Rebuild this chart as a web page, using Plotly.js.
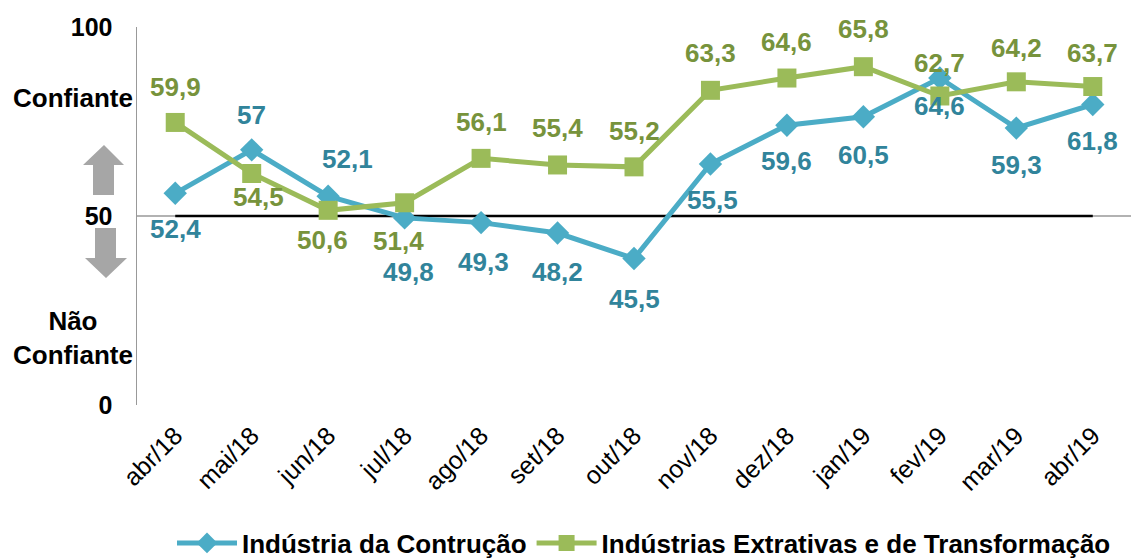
<!DOCTYPE html>
<html>
<head>
<meta charset="utf-8">
<script src="https://cdn.plot.ly/plotly-3.0.1.min.js"></script>
<style>html,body{margin:0;padding:0;background:#fff;}#chart{width:1137px;height:558px;}</style>
</head>
<body>
<div id="chart"></div>
<script>
const months = ['abr/18','mai/18','jun/18','jul/18','ago/18','set/18','out/18','nov/18','dez/18','jan/19','fev/19','mar/19','abr/19'];
const construcao = [52.4, 57.0, 52.1, 49.8, 49.3, 48.2, 45.5, 55.5, 59.6, 60.5, 64.6, 59.3, 61.8];
const extrativas = [59.9, 54.5, 50.6, 51.4, 56.1, 55.4, 55.2, 63.3, 64.6, 65.8, 62.7, 64.2, 63.7];
const seriesNames = ['Indústria da Contrução', 'Indústrias Extrativas e de Transformação'];
const yTickVals = [30, 50, 70];
const yTickText = ['0', '50', '100'];
const neutralLevel = 50;

// label offsets (pixels) as placed in the original: [xshift, yshift]
const construcaoLabelOffset = [[0,-36],[0,35],[19,37],[4,-54],[2,-39],[0,-39],[0,-40],[2,-36],[0,-36],[0,-38],[0,-28],[0,-37],[0,-37]];
const extrativasLabelOffset = [[0,35],[7,-24],[-6,-30],[-6,-38],[0,36],[0,37],[0,36],[0,37],[0,36],[0,38],[0,33],[0,34],[0,34]];

const blue = '#4BACC6', blueText = '#31849B';
const green = '#9BBB59', greenText = '#77933C';
const FONT = 'Liberation Sans, Arial, sans-serif';

// plot area pixel geometry
const L = 137, T = 27, W = 994, H = 378;
const px = x => (x - L) / W;
const py = y => (T + H - y) / H;

function fmt(v){ return String(v).replace('.', ','); }

const traces = [
  {x: months, y: construcao, name: seriesNames[0], type: 'scatter', mode: 'lines+markers',
   line: {color: blue, width: 5}, marker: {symbol: 'diamond', size: 18, color: blue}},
  {x: months, y: extrativas, name: seriesNames[1], type: 'scatter', mode: 'lines+markers',
   line: {color: green, width: 5}, marker: {symbol: 'square', size: 19, color: green}}
];

const annotations = [];
construcao.forEach((v, i) => annotations.push({x: months[i], y: v, text: fmt(v), showarrow: false,
  xshift: construcaoLabelOffset[i][0], yshift: construcaoLabelOffset[i][1],
  font: {family: FONT, size: 26, color: blueText, weight: 'bold'}}));
extrativas.forEach((v, i) => annotations.push({x: months[i], y: v, text: fmt(v), showarrow: false,
  xshift: extrativasLabelOffset[i][0], yshift: extrativasLabelOffset[i][1],
  font: {family: FONT, size: 26, color: greenText, weight: 'bold'}}));

annotations.push({xref: 'paper', yref: 'paper', x: px(135), y: py(98), xanchor: 'right', yanchor: 'middle',
  text: 'Confiante', showarrow: false, font: {family: FONT, size: 26, color: '#000', weight: 'bold'}});
annotations.push({xref: 'paper', yref: 'paper', x: px(135), y: py(338), xanchor: 'right', yanchor: 'middle', align: 'center',
  text: 'Não<br>Confiante', showarrow: false, font: {family: FONT, size: 26, color: '#000', weight: 'bold'}});

function arrowPath(pts){
  return 'M ' + pts.map(p => px(p[0]) + ',' + py(p[1])).join(' L ') + ' Z';
}
const upArrow = arrowPath([[104,145],[124,165],[114,165],[114,195],[93,195],[93,165],[83,165]]);
const downArrow = arrowPath([[95,228],[116,228],[116,258],[127,258],[106,278],[85,258],[95,258]]);

const shapes = [
  {type: 'line', xref: 'paper', yref: 'y', x0: 0, x1: 1, y0: neutralLevel, y1: neutralLevel, line: {color: '#999', width: 1.5}, layer: 'below'},
  {type: 'line', xref: 'x', yref: 'y', x0: months[0], x1: months[months.length-1], y0: neutralLevel, y1: neutralLevel, line: {color: '#000', width: 2.5}, layer: 'below'},
  {type: 'path', xref: 'paper', yref: 'paper', path: upArrow, fillcolor: '#A6A6A6', line: {width: 0}},
  {type: 'path', xref: 'paper', yref: 'paper', path: downArrow, fillcolor: '#A6A6A6', line: {width: 0}}
];

const layout = {
  width: 1137, height: 558,
  margin: {l: L, r: 1137 - L - W, t: T, b: 558 - T - H},
  paper_bgcolor: '#fff', plot_bgcolor: '#fff',
  font: {family: FONT, color: '#000'},
  showlegend: true,
  legend: {orientation: 'h', xref: 'container', yref: 'container', x: 644 / 1137, xanchor: 'center', y: (558 - 543) / 558, yanchor: 'middle',
    font: {family: FONT, size: 26, color: '#000', weight: 'bold'}, itemwidth: 60, tracegroupgap: 0},
  xaxis: {type: 'category', range: [-0.5, 12.5], showgrid: false, zeroline: false, showline: false, automargin: false,
    ticks: '', tickangle: -45, ticklabelstandoff: 10, tickfont: {family: FONT, size: 25, color: '#000'}, fixedrange: true},
  yaxis: {range: [30, 70], tickvals: yTickVals, ticktext: yTickText, showgrid: false, zeroline: false, automargin: false,
    showline: true, linecolor: '#999', linewidth: 1.5, ticks: '', ticklabelstandoff: 18,
    tickfont: {family: FONT, size: 25, color: '#000', weight: 'bold'}, fixedrange: true},
  annotations: annotations,
  shapes: shapes
};

Plotly.newPlot('chart', traces, layout, {displayModeBar: false, staticPlot: true});
</script>
</body>
</html>
